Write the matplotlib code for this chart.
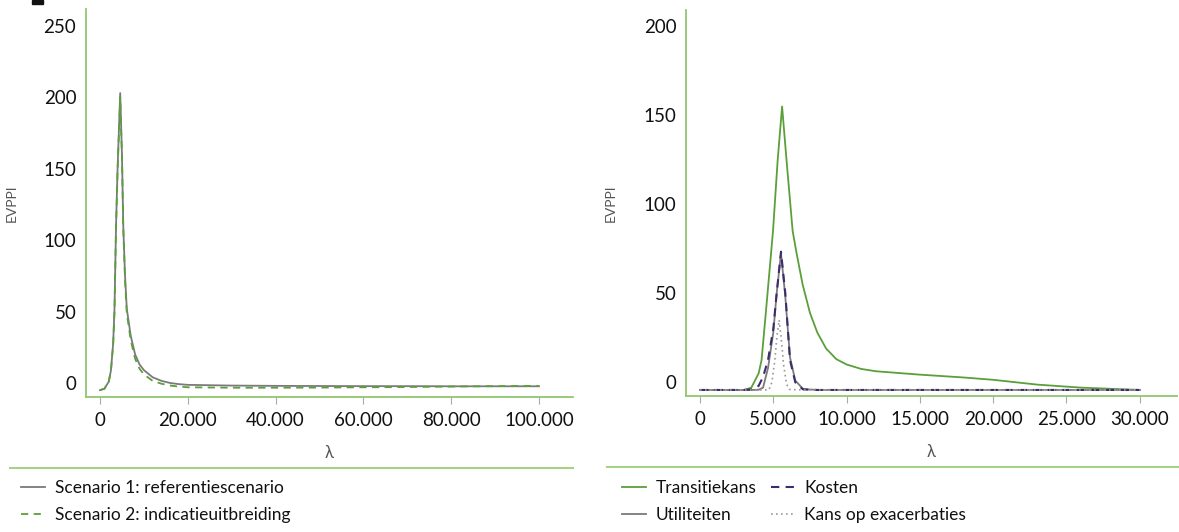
import matplotlib
matplotlib.use("Agg")
import matplotlib.pyplot as plt
from matplotlib.lines import Line2D
from matplotlib.patches import Rectangle
from matplotlib.ticker import FuncFormatter

plt.rcParams['font.family'] = ['Lato', 'DejaVu Sans']

# ---------------- data: left panel ----------------
lam_left = [0, 1000, 2000, 2500, 3000, 3300, 3650, 4000, 4600, 5000, 5300, 5700,
            6100, 7000, 8000, 9000, 10000, 12000, 14000, 16000, 18000, 20000,
            30000, 40000, 50000, 60000, 70000, 80000, 90000, 100000]
scen1 = [-5, -4, 1, 9, 28, 52, 110, 150, 203, 160, 110, 75,
         52, 33, 20, 13, 9, 4, 1.5, 0, -0.8, -1.3,
         -1.8, -2.0, -2.1, -2.2, -2.2, -2.3, -2.3, -2.3]
scen2 = [-5, -4, 1, 9, 27, 50, 108, 148, 200, 158, 108, 72,
         49, 30, 17, 10, 6, 1.5, -0.5, -1.8, -2.5, -3.0,
         -3.3, -3.3, -3.2, -3.0, -2.8, -2.5, -2.2, -2.0]
left_labels = ["Scenario 1: referentiescenario", "Scenario 2: indicatieuitbreiding"]

# ---------------- data: right panel ----------------
lam_trans = [0, 1000, 2000, 3000, 3500, 4000, 4200, 4500, 4980, 5300, 5600, 5900,
             6320, 6600, 7000, 7500, 8000, 8600, 9300, 10000, 11000, 12000,
             15000, 18000, 20000, 23000, 26000, 30000]
transitie = [-4.3, -4.3, -4.3, -4.3, -3, 5, 12.5, 40, 85, 125, 155, 125,
             85, 72, 55, 39, 28, 19, 13, 10, 7.5, 6.2,
             4.3, 2.7, 1.4, -1.3, -3, -4.3]

lam_peak = [0, 1000, 2000, 3000, 3600, 4000, 4300, 4640, 5000, 5230, 5525, 5820,
            6140, 6500, 7030, 8000, 10000, 15000, 20000, 25000, 30000]
kosten = [-4.3, -4.3, -4.3, -4.3, -4.0, -2, 3, 12.5, 30, 50, 73.4, 50,
          12.5, 0, -4.0, -4.3, -4.3, -4.3, -4.3, -4.3, -4.3]
utiliteiten = [-4.3, -4.3, -4.3, -4.3, -4.3, -4.2, -3, 8, 28, 50, 72.5, 48,
               14, 1, -3.8, -4.3, -4.3, -4.3, -4.3, -4.3, -4.3]

lam_exa = [0, 3000, 4700, 4900, 5100, 5250, 5400, 5550, 5700, 5900, 6100, 7000, 30000]
exacerbaties = [-4.3, -4.3, -4.3, 0, 12, 26, 35, 24, 10, -1, -4, -4.3, -4.3]
right_labels = ["Transitiekans", "Utiliteiten", "Kosten", "Kans op exacerbaties"]

# ---------------- styling ----------------
GREEN = "#5b9f3a"
SPINE = "#93c66f"
SEP = "#a6d187"
GREY = "#7a7a7a"
PURPLE = "#3d2b6e"
LIGHTGREY = "#9a9a9a"
TEXT = "#111111"

W, H = 1179, 532
fig = plt.figure(figsize=(W / 100, H / 100), dpi=100)

def px_axes(x0, y0, x1, y1):
    return fig.add_axes([x0 / W, 1 - y1 / H, (x1 - x0) / W, (y1 - y0) / H])

def dotfmt(v, pos):
    return f"{int(round(v)):,}".replace(",", ".")

def style(ax, label_x):
    for s in ("top", "right"):
        ax.spines[s].set_visible(False)
    for s in ("left", "bottom"):
        ax.spines[s].set_color(SPINE)
        ax.spines[s].set_linewidth(1.3)
    ax.tick_params(axis="y", length=0, labelsize=13.5, colors=TEXT, pad=7)
    ax.tick_params(axis="x", length=5, width=0.8, color="#aaaaaa",
                   labelsize=13.5, labelcolor=TEXT, pad=6)
    ax.xaxis.set_major_formatter(FuncFormatter(dotfmt))
    ax.set_ylabel("EVPPI", fontsize=10, color="#555555")
    ax.yaxis.set_label_coords(label_x, 0.5)
    ax.set_xlabel("λ", fontsize=12, color="#555555", labelpad=11)

# left
axL = px_axes(86, 9, 573, 397)
axL.plot(lam_left, scen1, color=GREY, lw=1.3, label=left_labels[0])
axL.plot(lam_left, scen2, color=GREEN, lw=1.3, ls=(0, (4, 3)), label=left_labels[1])
axL.set_xlim(-3190, 107745)
axL.set_ylim(-9.8, 261.9)
axL.set_xticks([0, 20000, 40000, 60000, 80000, 100000])
axL.set_yticks([0, 50, 100, 150, 200, 250])
style(axL, (18 - 86) / 487)

# right
axR = px_axes(686, 10, 1177, 396)
axR.plot(lam_trans, transitie, color=GREEN, lw=1.3, label=right_labels[0])
axR.plot(lam_peak, utiliteiten, color=GREY, lw=1.3, label=right_labels[1])
axR.plot(lam_peak, kosten, color=PURPLE, lw=1.5, ls=(0, (4, 3)), label=right_labels[2])
axR.plot(lam_exa, exacerbaties, color=LIGHTGREY, lw=1.2, ls=(0, (1, 2)), label=right_labels[3])
axR.set_xlim(-955, 32538)
axR.set_ylim(-7.7, 209.2)
axR.set_xticks([0, 5000, 10000, 15000, 20000, 25000, 30000])
axR.set_yticks([0, 50, 100, 150, 200])
style(axR, (617 - 686) / 491)

# separator lines
fig.add_artist(Line2D([10 / W, 573 / W], [1 - 468 / H] * 2, color=SEP, lw=1.5))
fig.add_artist(Line2D([607 / W, 1179 / W], [1 - 467 / H] * 2, color=SEP, lw=1.5))

# small dark mark at top-left (cropped remnant in the original)
fig.add_artist(Rectangle((32 / W, 1 - 4 / H), 11 / W, 4 / H, color="#111111",
                         transform=fig.transFigure))

# legends
hL, lL = axL.get_legend_handles_labels()
fig.legend(hL, lL, loc="upper left", bbox_to_anchor=(21 / W, 1 - 480 / H),
           frameon=False, fontsize=12.5, handlelength=1.4, handletextpad=0.55,
           labelspacing=0.65, borderaxespad=0, borderpad=0, labelcolor=TEXT)
hR, lR = axR.get_legend_handles_labels()
fig.legend(hR, lR, loc="upper left", bbox_to_anchor=(622 / W, 1 - 480 / H),
           ncol=2, frameon=False, fontsize=12.5, handlelength=1.4, handletextpad=0.55,
           labelspacing=0.65, columnspacing=0.8, borderaxespad=0, borderpad=0,
           labelcolor=TEXT)

fig.savefig("out.png", dpi=100)
